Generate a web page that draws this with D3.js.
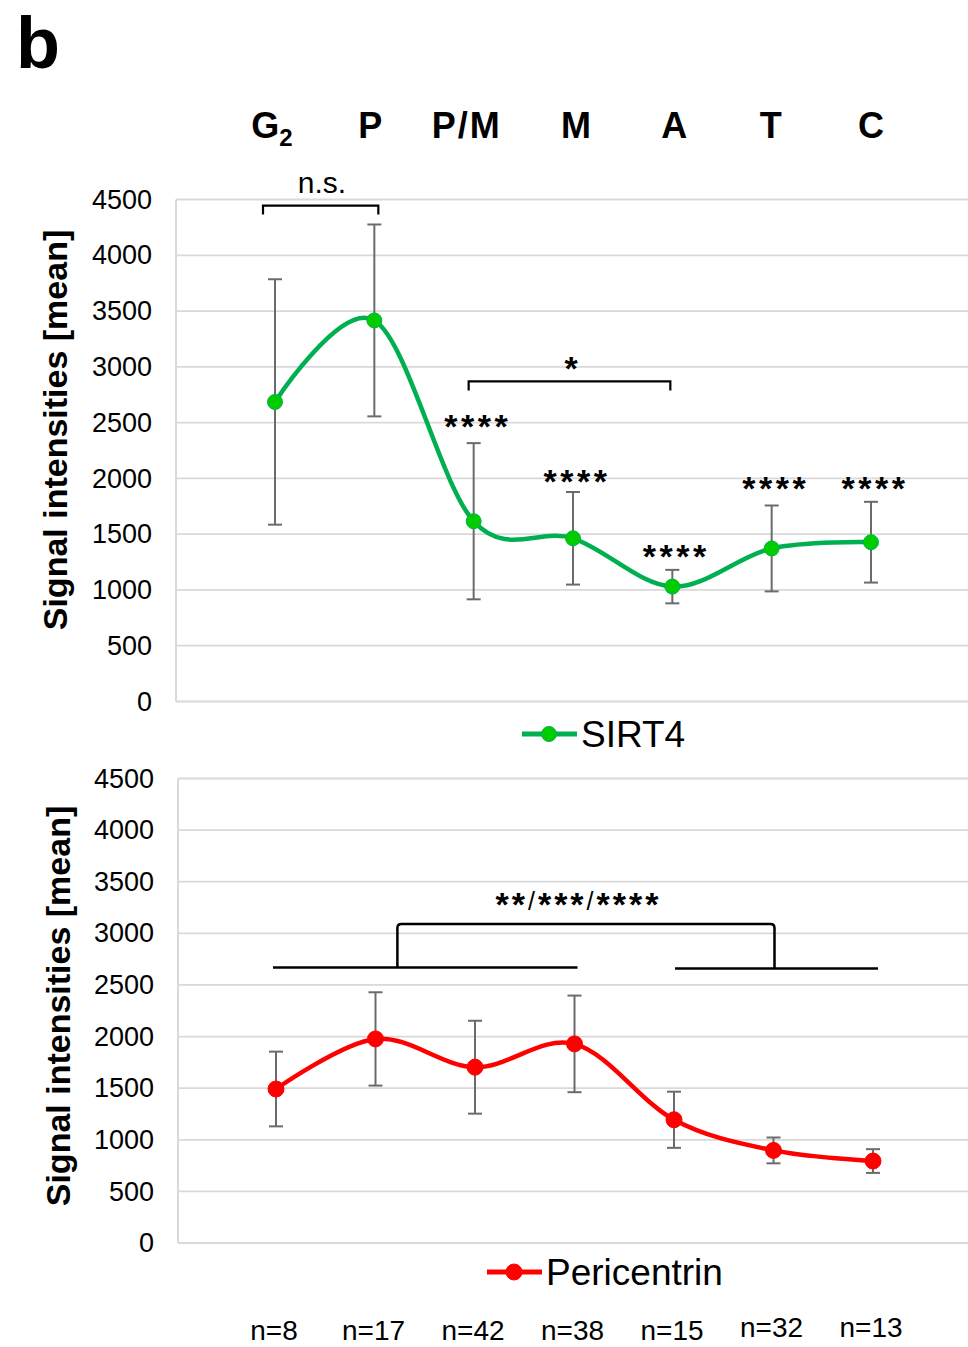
<!DOCTYPE html>
<html>
<head>
<meta charset="utf-8">
<script src="https://cdn.jsdelivr.net/npm/d3@7"></script>
<style>
body { margin: 0; background: #fff; }
text { font-family: Arial, "Liberation Sans", sans-serif; fill: #000; }
</style>
</head>
<body>
<svg id="chart" width="968" height="1347"></svg>
<script>
let phases = ["G2", "P", "P/M", "M", "A", "T", "C"]
let nLabels = ["n=8", "n=17", "n=42", "n=38", "n=15", "n=32", "n=13"]
let yTicks = [0, 500, 1000, 1500, 2000, 2500, 3000, 3500, 4000, 4500]

let sirt4Mean = [2685, 3416, 1616, 1463, 1030, 1372, 1428]
let sirt4Err = [1100, 860, 700, 415, 150, 385, 362]
let sirt4Stars = ["", "", "****", "****", "****", "****", "****"]
let sirt4StarAt = [0, 0, 2510, 2025, 1345, 1960, 1955]

let pcntMean = [1492, 1977, 1703, 1929, 1194, 897, 794]
let pcntErr = [362, 452, 450, 468, 272, 125, 115]

let svg = d3.select("#chart")
let fontStar = 34

svg.append("text")
    .attr("x", 16)
    .attr("y", 68)
    .attr("font-size", 72)
    .attr("font-weight", "bold")
    .text("b")

let drawPanel = function (p){

    let x = d3.scalePoint().domain(phases).range([p.x0, p.x1])
    let y = d3.scaleLinear().domain([0, 4500]).range([p.yBottom, p.yTop])
    let g = svg.append("g").attr("id", p.name)

    // grid + left axis line
    g.selectAll("line.grid")
        .data(yTicks)
        .enter().append("line")
        .attr("class", "grid")
        .attr("x1", p.axisX).attr("x2", 968)
        .attr("y1", (d) => y(d)).attr("y2", (d) => y(d))
        .attr("stroke", "#d9d9d9")
        .attr("stroke-width", 1.8)

    g.append("line")
        .attr("x1", p.axisX).attr("x2", p.axisX)
        .attr("y1", y(0)).attr("y2", y(4500))
        .attr("stroke", "#d9d9d9")
        .attr("stroke-width", 2)

    let axis = d3.axisLeft(y).tickValues(yTicks).tickFormat(d3.format("d")).tickSize(0).tickPadding(0)
    let ax = g.append("g")
        .attr("transform", "translate(" + (p.axisX - 24) + ",0)")
        .call(axis)
    ax.select(".domain").remove()
    ax.selectAll("text")
        .attr("font-size", 27)
        .attr("font-family", "Arial, 'Liberation Sans', sans-serif")
        .attr("fill", "#000")

    g.append("text")
        .attr("transform", "translate(" + p.titleX + "," + p.titleY + ") rotate(-90)")
        .attr("text-anchor", "middle")
        .attr("font-size", 34)
        .attr("font-weight", "bold")
        .text("Signal intensities [mean]")

    // error bars
    let bars = g.selectAll("g.err")
        .data(p.mean)
        .enter().append("g")
        .attr("class", "err")
    bars.append("line")
        .attr("x1", (d, i) => x(phases[i])).attr("x2", (d, i) => x(phases[i]))
        .attr("y1", (d, i) => y(d - p.err[i])).attr("y2", (d, i) => y(d + p.err[i]))
        .attr("stroke", "#6b6b6b").attr("stroke-width", 2)
    bars.append("line")
        .attr("x1", (d, i) => x(phases[i]) - 7).attr("x2", (d, i) => x(phases[i]) + 7)
        .attr("y1", (d, i) => y(d + p.err[i])).attr("y2", (d, i) => y(d + p.err[i]))
        .attr("stroke", "#6b6b6b").attr("stroke-width", 2)
    bars.append("line")
        .attr("x1", (d, i) => x(phases[i]) - 7).attr("x2", (d, i) => x(phases[i]) + 7)
        .attr("y1", (d, i) => y(d - p.err[i])).attr("y2", (d, i) => y(d - p.err[i]))
        .attr("stroke", "#6b6b6b").attr("stroke-width", 2)

    let GenLine = d3.line()
        .x((d, i) => x(phases[i]))
        .y((d) => y(d))
        .curve(d3.curveCatmullRom.alpha(0))

    g.append("path")
        .attr("d", GenLine(p.mean))
        .attr("fill", "none")
        .attr("stroke", p.lineColor)
        .attr("stroke-width", 4.5)

    g.selectAll("circle.pt")
        .data(p.mean)
        .enter().append("circle")
        .attr("class", "pt")
        .attr("cx", (d, i) => x(phases[i]))
        .attr("cy", (d) => y(d))
        .attr("r", p.r)
        .attr("fill", p.dotColor)
        .attr("stroke", p.lineColor)
        .attr("stroke-width", 1)

    // legend
    g.append("line")
        .attr("x1", p.legX).attr("x2", p.legX + 55)
        .attr("y1", p.legY).attr("y2", p.legY)
        .attr("stroke", p.lineColor).attr("stroke-width", 5)
    g.append("circle")
        .attr("cx", p.legX + 27).attr("cy", p.legY).attr("r", p.r)
        .attr("fill", p.dotColor).attr("stroke", p.lineColor)
    g.append("text")
        .attr("x", p.legX + 59).attr("y", p.legY + 13)
        .attr("font-size", 37)
        .text(p.name)

    return {x: x, y: y, g: g}
}

let topPanel = drawPanel({
    name: "SIRT4", mean: sirt4Mean, err: sirt4Err,
    x0: 275, x1: 871, yTop: 199.5, yBottom: 701.5, axisX: 176,
    titleX: 67, titleY: 430,
    lineColor: "#00b050", dotColor: "#00cc00", r: 7.5,
    legX: 522, legY: 734
})

let bottomPanel = drawPanel({
    name: "Pericentrin", mean: pcntMean, err: pcntErr,
    x0: 276, x1: 873, yTop: 778.5, yBottom: 1243, axisX: 178,
    titleX: 70, titleY: 1006,
    lineColor: "#ff0000", dotColor: "#ff0000", r: 8,
    legX: 487, legY: 1272
})

// phase labels
let headShift = [-3, -4, -7, 3, 2, -1, 0]
let head = svg.append("g")
head.selectAll("text")
    .data(phases)
    .enter().append("text")
    .attr("x", (d, i) => topPanel.x(d) + headShift[i])
    .attr("y", 138)
    .attr("text-anchor", "middle")
    .attr("font-size", 36)
    .attr("font-weight", "bold")
    .attr("letter-spacing", (d) => d === "P/M" ? 2 : 0)
    .each(function (d){
        let t = d3.select(this)
        if (d === "G2"){
            t.append("tspan").text("G")
            t.append("tspan").attr("font-size", 24).attr("dy", 8).text("2")
        } else {
            t.text(d)
        }
    })

// n labels
svg.append("g").selectAll("text")
    .data(nLabels)
    .enter().append("text")
    .attr("x", (d, i) => bottomPanel.x(phases[i]) - 2)
    .attr("y", (d, i) => i > 4 ? 1337 : 1340)
    .attr("text-anchor", "middle")
    .attr("font-size", 28)
    .text((d) => d)

// significance stars above SIRT4 points
topPanel.g.selectAll("text.star")
    .data(sirt4Stars)
    .enter().append("text")
    .attr("class", "star")
    .attr("x", (d, i) => topPanel.x(phases[i]) + 4)
    .attr("y", (d, i) => topPanel.y(sirt4StarAt[i]) + 17)
    .attr("text-anchor", "middle")
    .attr("font-size", fontStar)
    .attr("font-weight", "bold")
    .attr("letter-spacing", 3.5)
    .text((d) => d)

let bracket = function (g, xa, xb, yTop, yLeg){
    g.append("path")
        .attr("d", "M" + xa + "," + yLeg + "V" + yTop + "H" + xb + "V" + yLeg)
        .attr("fill", "none")
        .attr("stroke", "#000")
        .attr("stroke-width", 2.2)
}

let tx = topPanel.x, ty = topPanel.y
bracket(topPanel.g, tx("G2") - 12, tx("P") + 4, ty(4445), ty(4365))
topPanel.g.append("text")
    .attr("x", 322).attr("y", ty(4445) - 13)
    .attr("text-anchor", "middle")
    .attr("font-size", 30)
    .text("n.s.")

bracket(topPanel.g, tx("P/M") - 5, tx("A") - 2, ty(2870), ty(2787))
topPanel.g.append("text")
    .attr("x", (tx("P/M") + tx("A")) / 2 - 2).attr("y", ty(2870) - 1)
    .attr("text-anchor", "middle")
    .attr("font-size", fontStar)
    .attr("font-weight", "bold")
    .text("*")

// pericentrin group comparison
let bx = bottomPanel.x, by = bottomPanel.y
let step = bx.step()
let groupY = by(2670)
bottomPanel.g.append("line")
    .attr("x1", bx("G2") - 3).attr("x2", bx("M") + 3)
    .attr("y1", groupY).attr("y2", groupY)
    .attr("stroke", "#000").attr("stroke-width", 2.5)
bottomPanel.g.append("line")
    .attr("x1", bx("A") + 1).attr("x2", bx("C") + 5)
    .attr("y1", groupY + 1).attr("y2", groupY + 1)
    .attr("stroke", "#000").attr("stroke-width", 2.5)

let cl = bx("P") + 0.22 * step, cr = bx("T") + 1, ct = by(3090), r = 4
bottomPanel.g.append("path")
    .attr("d", "M" + cl + "," + groupY + "V" + (ct + r) + "Q" + cl + "," + ct + " " + (cl + r) + "," + ct +
        "H" + (cr - r) + "Q" + cr + "," + ct + " " + cr + "," + (ct + r) + "V" + (groupY + 1))
    .attr("fill", "none")
    .attr("stroke", "#000")
    .attr("stroke-width", 2.5)

let starText = bottomPanel.g.append("text")
    .attr("x", bx("M") + 4).attr("y", ct - 8)
    .attr("text-anchor", "middle")
    .attr("font-size", fontStar)
    .attr("font-weight", "bold")
    .attr("letter-spacing", 3)
"**/***/****".split("/").forEach(function (part, i){
    if (i > 0) {
        starText.append("tspan").attr("font-weight", "normal").attr("font-size", 25).attr("dy", -6).text("/")
        starText.append("tspan").attr("dy", 6).text(part)
    } else {
        starText.append("tspan").text(part)
    }
})
</script>
</body>
</html>
